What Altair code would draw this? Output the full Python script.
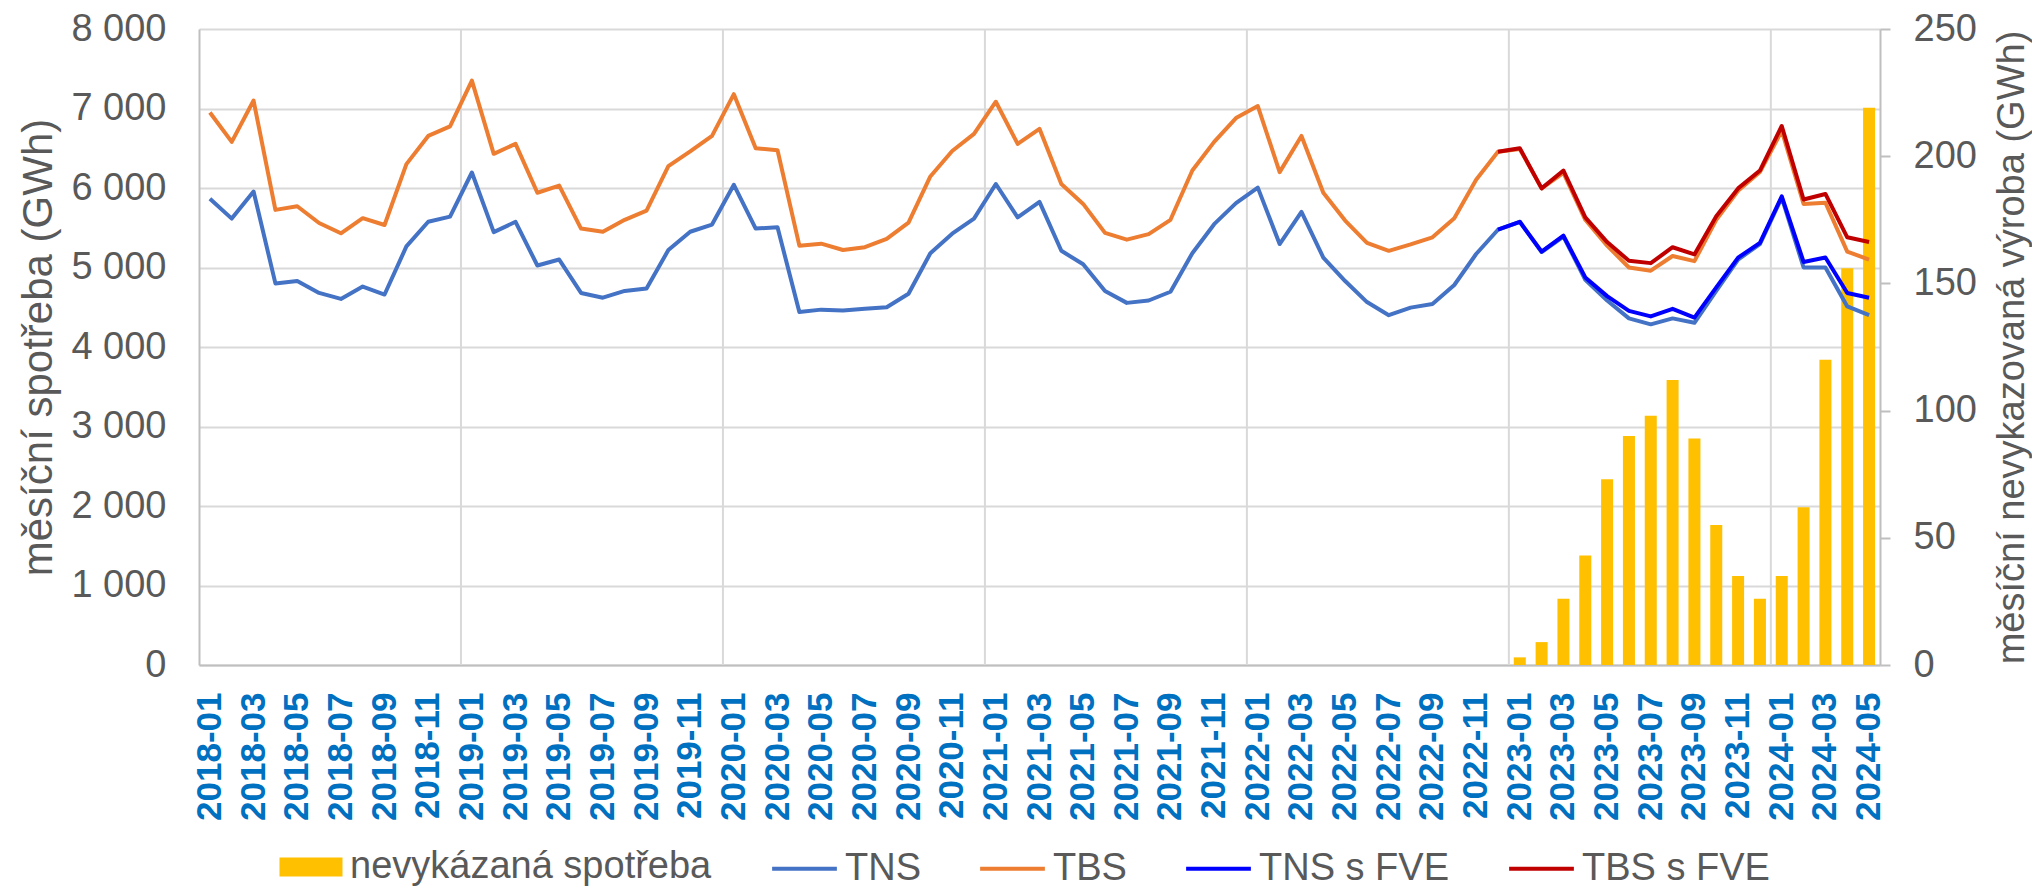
import altair as alt
import pandas as pd

# ---- categories ----
months = [f"{y}-{m:02d}" for y in range(2018, 2025) for m in range(1, 13)][:77]
label_months = months[::2]
year_starts = ["2019-01", "2020-01", "2021-01", "2022-01", "2023-01", "2024-01"]

# ---- monthly consumption (GWh), left axis ----
tns = [5865, 5615, 5955, 4800, 4830, 4680, 4605, 4760, 4660, 5265, 5575, 5640,
       6195, 5445, 5575, 5025, 5100, 4680, 4620, 4705, 4735, 5220, 5450, 5540,
       6040, 5490, 5505, 4440, 4470, 4460, 4480, 4500, 4670, 5180, 5425, 5615,
       6050, 5630, 5825, 5210, 5040, 4705, 4555, 4585, 4695, 5180, 5545, 5810,
       6005, 5295, 5700, 5125, 4830, 4565, 4400, 4495, 4540, 4780, 5170, 5475,
       5575, 5195, 5390, 4845, 4585, 4360, 4285, 4360, 4305, 4705, 5100, 5295,
       5880, 5000, 5000, 4510, 4400]
tbs = [6950, 6580, 7100, 5725, 5770, 5560, 5430, 5620, 5535, 6300, 6655, 6775,
       7350, 6430, 6555, 5940, 6030, 5490, 5450, 5600, 5715, 6275, 6460, 6655,
       7180, 6500, 6475, 5275, 5300, 5220, 5255, 5360, 5565, 6145, 6465, 6680,
       7085, 6555, 6745, 6050, 5800, 5435, 5350, 5420, 5600, 6220, 6580, 6880,
       7030, 6200, 6655, 5940, 5590, 5310, 5210, 5290, 5380, 5620, 6105, 6455,
       6490, 5995, 6190, 5600, 5275, 5000, 4960, 5145, 5080, 5600, 5965, 6200,
       6720, 5800, 5815, 5200, 5100]
fve_months = months[59:]          # 2022-12 .. 2024-05
tns_fve = [5475, 5575, 5200, 5400, 4875, 4640, 4455, 4385, 4480, 4370, 4750,
           5125, 5310, 5895, 5070, 5125, 4680, 4620]
tbs_fve = [6455, 6500, 5995, 6220, 5630, 5320, 5085, 5055, 5255, 5165, 5645,
           5995, 6220, 6780, 5855, 5925, 5380, 5320]

# ---- unreported production (GWh), right axis ----
bar_months = months[60:]          # 2023-01 .. 2024-05
unreported = [3, 9, 26, 43, 73, 90, 98, 112, 89, 55, 35, 26, 35, 62, 120, 156, 219]

series_names = ["TNS", "TBS", "TNS s FVE", "TBS s FVE"]
series_colors = ["#4472C4", "#ED7D31", "#0000FF", "#C00000"]
bar_name = "nevykázaná spotřeba"
bar_color = "#FFC000"

rows = []
for name, ms, vals in [("TNS", months, tns), ("TBS", months, tbs),
                       ("TNS s FVE", fve_months, tns_fve), ("TBS s FVE", fve_months, tbs_fve)]:
    for m, v in zip(ms, vals):
        rows.append({"month": m, "series": name, "value": v})
lines_df = pd.DataFrame(rows)
bars_df = pd.DataFrame({"month": bar_months, "series": bar_name, "value": unreported})
grid_df = pd.DataFrame({"month": year_starts})

FONT = "Liberation Sans"
GRAY = "#595959"
W, H = 1681, 636

xscale = alt.Scale(type="band", domain=months, paddingInner=0, paddingOuter=0)
x_axis = alt.Axis(values=label_months, labelAngle=-90, labelColor="#0070C0",
                  labelFontWeight="bold", labelFontSize=35, labelFont=FONT,
                  labelPadding=27, ticks=False, domain=True, domainColor="#bfbfbf",
                  domainWidth=2, grid=False, title=None, labelOverlap=False)

rules = alt.Chart(grid_df).mark_rule(color="#d9d9d9", strokeWidth=2).encode(
    x=alt.X("month:N", scale=xscale, bandPosition=0, axis=x_axis)
)

bars = alt.Chart(bars_df).mark_bar(width=alt.RelativeBandSize(0.55)).encode(
    x=alt.X("month:N", scale=xscale, axis=x_axis),
    y=alt.Y("value:Q", scale=alt.Scale(domain=[0, 250], nice=False),
            axis=alt.Axis(orient="right", values=[0, 50, 100, 150, 200, 250], grid=False,
                          ticks=True, tickSize=10, tickColor="#bfbfbf", tickWidth=2,
                          domain=True, domainColor="#bfbfbf", domainWidth=2,
                          labelPadding=23, labelFontSize=38, labelColor=GRAY, labelFont=FONT,
                          title="měsíční nevykazovaná výroba (GWh)", titleFontSize=38,
                          titleColor=GRAY, titleFont=FONT, titleFontWeight="normal",
                          titleAngle=270, titleBaseline="top", titlePadding=17)),
    color=alt.Color("series:N", scale=alt.Scale(domain=[bar_name], range=[bar_color]),
                    legend=alt.Legend(orient="none", legendX=93, legendY=819, title=None,
                                      symbolType="M-3,-0.9L3,-0.9L3,0.9L-3,0.9Z",
                                      symbolSize=441, symbolStrokeWidth=0,
                                      labelOffset=20, labelFontSize=38, labelColor=GRAY,
                                      labelFont=FONT, labelLimit=1000))
)

lines = alt.Chart(lines_df).mark_line(strokeWidth=4, strokeJoin="round").encode(
    x=alt.X("month:N", scale=xscale, axis=x_axis),
    y=alt.Y("value:Q", scale=alt.Scale(domain=[0, 8000], nice=False),
            axis=alt.Axis(orient="left", values=list(range(0, 8001, 1000)),
                          labelExpr="replace(format(datum.value, ','), ',', ' ')",
                          grid=True, gridColor="#d9d9d9", gridWidth=2, ticks=False,
                          domain=True, domainColor="#bfbfbf", domainWidth=2,
                          labelPadding=33, labelFontSize=38, labelColor=GRAY, labelFont=FONT,
                          title="měsíční spotřeba (GWh)", titleFontSize=42, titleColor=GRAY,
                          titleFont=FONT, titleFontWeight="normal", titlePadding=10)),
    stroke=alt.Stroke("series:N", scale=alt.Scale(domain=series_names, range=series_colors),
                      legend=alt.Legend(orient="none", legendX=585, legendY=819, title=None,
                                        direction="horizontal",
                                        symbolType="M-1.75,0L1.75,0", symbolSize=1369,
                                        symbolStrokeWidth=4, labelOffset=20,
                                        columnPadding=51, labelFontSize=38,
                                        labelColor=GRAY, labelFont=FONT, labelLimit=1000))
)

chart = alt.layer(rules, bars, lines).resolve_scale(y="independent").properties(
    width=W, height=H,
    padding={"left": 9, "top": 2, "right": 0, "bottom": 0},
).configure_view(stroke=None)

chart.save("out.html", embed_options={"renderer": "svg", "actions": False})
